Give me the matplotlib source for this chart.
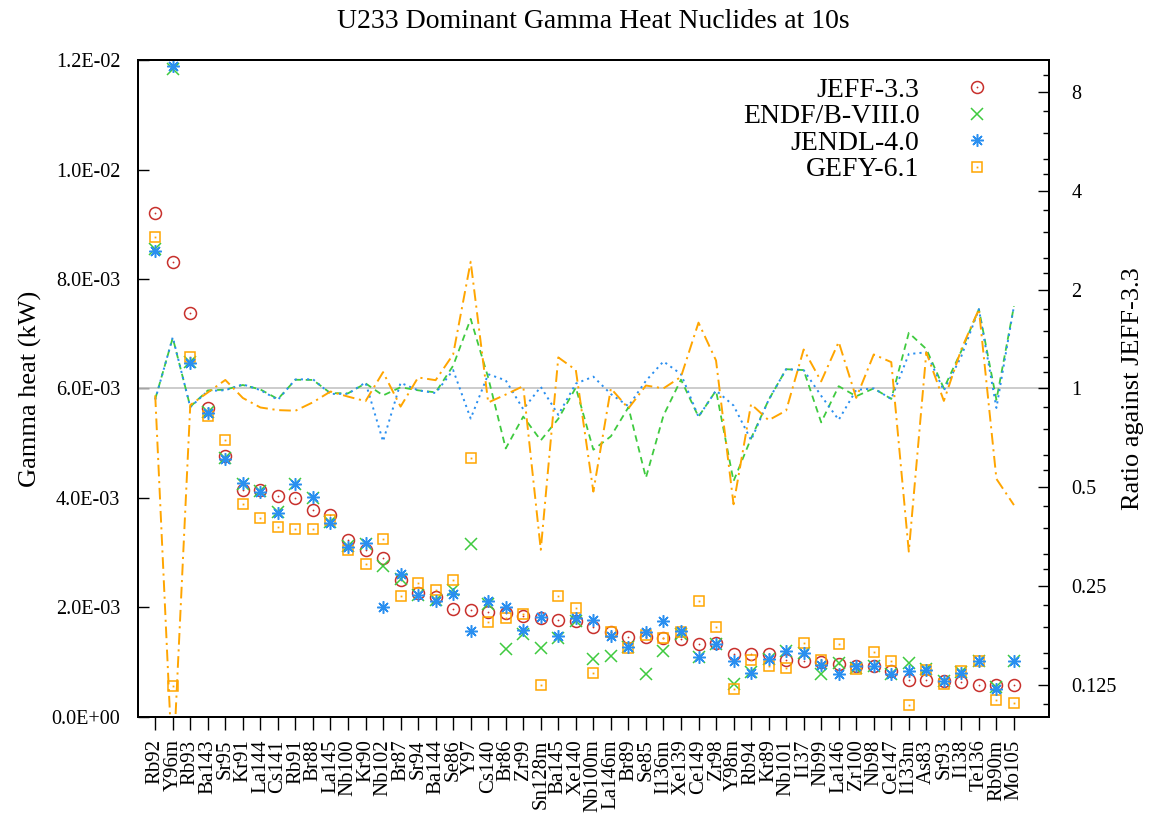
import numpy as np
import matplotlib.pyplot as plt
from matplotlib.ticker import FixedLocator, NullFormatter, FuncFormatter
from matplotlib.legend_handler import HandlerTuple

plt.rcParams.update({
    "font.family": ["Liberation Serif", "DejaVu Serif"],
    "mathtext.fontset": "dejavuserif",
    "axes.linewidth": 1.4,
})

RED = "#c8302c"
GREEN = "#3fca3f"
BLUE = "#2a8ff0"
ORANGE = "#ffa500"

nuclides = [
    "Rb92", "Y96m", "Rb93", "Ba143", "Sr95", "Kr91", "La144", "Cs141", "Rb91", "Br88",
    "La145", "Nb100", "Kr90", "Nb102", "Br87", "Sr94", "Ba144", "Se86", "Y97", "Cs140",
    "Br86", "Zr99", "Sn128m", "Ba145", "Xe140", "Nb100m", "La146m", "Br89", "Se85", "I136m",
    "Xe139", "Ce149", "Zr98", "Y98m", "Rb94", "Kr89", "Nb101", "I137", "Nb99", "La146",
    "Zr100", "Nb98", "Ce147", "I133m", "As83", "Sr93", "I138", "Te136", "Rb90m", "Mo105",
]

# gamma heat at 10 s, in units of 1e-3 kW
jeff = np.array([
    9.21, 8.31, 7.38, 5.65, 4.76, 4.15, 4.15, 4.03, 4.00, 3.77,
    3.68, 3.22, 3.04, 2.90, 2.50, 2.26, 2.19, 1.97, 1.94, 1.91,
    1.89, 1.84, 1.80, 1.77, 1.74, 1.63, 1.54, 1.45, 1.46, 1.44,
    1.42, 1.33, 1.34, 1.15, 1.15, 1.15, 1.04, 1.02, 0.99, 0.96,
    0.93, 0.93, 0.84, 0.66, 0.66, 0.655, 0.63, 0.585, 0.585, 0.567,
]) * 1e-3
endf = np.array([
    8.55, 11.85, 6.49, 5.57, 4.72, 4.25, 4.12, 3.74, 4.25, 4.00,
    3.56, 3.11, 3.15, 2.76, 2.52, 2.23, 2.13, 2.31, 3.16, 2.06,
    1.24, 1.51, 1.25, 1.43, 1.75, 1.06, 1.10, 1.27, 0.78, 1.19,
    1.51, 1.09, 1.32, 0.60, 0.81, 1.06, 1.19, 1.16, 0.78, 0.975,
    0.88, 0.93, 0.78, 0.975, 0.87, 0.655, 0.82, 1.02, 0.54, 1.01,
]) * 1e-3
jendl = np.array([
    8.51, 11.90, 6.47, 5.55, 4.70, 4.27, 4.10, 3.72, 4.26, 4.02,
    3.54, 3.10, 3.17, 2.00, 2.60, 2.23, 2.12, 2.24, 1.57, 2.11,
    2.00, 1.59, 1.82, 1.47, 1.80, 1.77, 1.48, 1.28, 1.54, 1.74,
    1.57, 1.09, 1.32, 1.02, 0.80, 1.06, 1.19, 1.16, 0.94, 0.77,
    0.92, 0.93, 0.78, 0.84, 0.85, 0.645, 0.79, 1.02, 0.51, 1.01,
]) * 1e-3
gefy = np.array([
    8.77, 0.554, 6.57, 5.49, 5.05, 3.88, 3.63, 3.46, 3.42, 3.42,
    3.60, 3.04, 2.78, 3.25, 2.20, 2.44, 2.32, 2.50, 4.72, 1.73,
    1.81, 1.87, 0.58, 2.20, 1.98, 0.79, 1.54, 1.26, 1.49, 1.44,
    1.54, 2.11, 1.63, 0.51, 1.03, 0.92, 0.89, 1.34, 1.04, 1.33,
    0.87, 1.18, 1.01, 0.21, 0.85, 0.60, 0.83, 1.02, 0.31, 0.25,
]) * 1e-3

heat_ticks = [0.0, 2e-3, 4e-3, 6e-3, 8e-3, 1e-2, 1.2e-2]
ratio_ticks = [0.125, 0.25, 0.5, 1, 2, 4, 8]
ratio_labels = ["0.125", "0.25", "0.5", "1", "2", "4", "8"]
ratio_minor_mant = [1.125, 1.25, 1.5, 1.75]

x = np.arange(len(nuclides))

W, H = 1150, 818
fig = plt.figure(figsize=(W / 100, H / 100), dpi=100)
left, right, top, bottom = 137.7, 1049.0, 60.3, 716.5
ax = fig.add_axes([left / W, 1 - bottom / H, (right - left) / W, (bottom - top) / H])

# absolute heat, one marker style per library
h_jeff = ax.plot(x, jeff, ls="none", marker="o", ms=8.6, mfc="none", mec=RED, mew=1.1)[0]
d_jeff = ax.plot(x, jeff, ls="none", marker="o", ms=1.3, color=RED, mew=0)[0]
h_endf = ax.plot(x, endf, ls="none", marker="x", ms=8.0, color=GREEN, mew=1.1)[0]
h_gefy = ax.plot(x, gefy, ls="none", marker="s", ms=7.8, mfc="none", mec=ORANGE, mew=1.1)[0]
d_gefy = ax.plot(x, gefy, ls="none", marker="s", ms=1.3, color=ORANGE, mew=0)[0]
h_jendl = ax.plot(x, jendl, ls="none", marker=(8, 2, 0), ms=9.0, color=BLUE, mew=1.1)[0]

ax.set_xlim(-1, 51)
ax.set_ylim(0, 0.012)
ax.set_yticks(heat_ticks)
ax.yaxis.set_major_formatter(FuncFormatter(lambda v, p: "%.1E" % v))
ax.set_xticks(x)
ax.set_xticklabels(nuclides, rotation=90, fontsize=15)
ax.tick_params(axis="x", direction="out", length=9.5, width=1.0, pad=7, top=False)
ax.tick_params(axis="y", direction="in", length=7.6, width=1.0, labelsize=14.5, pad=12.5,
               right=False)
ax.set_ylabel("Gamma heat (kW)", fontsize=19)
ax.yaxis.set_label_coords(-0.105, 0.5)
ax.set_title("U233 Dominant Gamma Heat Nuclides at 10s", fontsize=20, pad=23)

# ratios against JEFF-3.3 on a log2 right axis
ax2 = ax.twinx()
ax2.set_yscale("log")
ax2.set_ylim(0.1, 10)
ax2.axhline(1.0, color="#c4c4c4", lw=1.2, zorder=0)
ax2.plot(x, endf / jeff, color=GREEN, lw=1.3, dashes=(3.6, 2.6))
ax2.plot(x, jendl / jeff, color=BLUE, lw=1.4, dashes=(1.1, 2.1))
ax2.plot(x, gefy / jeff, color=ORANGE, lw=1.4, dashes=(6.0, 2.4, 1.1, 2.4))

minor = [m * 2.0 ** k for k in range(-4, 4) for m in ratio_minor_mant]
minor = [v for v in minor if 0.1 < v < 10]
ax2.yaxis.set_major_locator(FixedLocator(ratio_ticks))
ax2.set_yticklabels(ratio_labels)
ax2.yaxis.set_minor_locator(FixedLocator(minor))
ax2.yaxis.set_minor_formatter(NullFormatter())
ax2.tick_params(axis="y", which="major", direction="in", length=7.7, width=1.0,
                labelsize=14.5, pad=16)
ax2.tick_params(axis="y", which="minor", direction="in", length=4.0, width=1.0)
ax2.set_ylabel("Ratio against JEFF-3.3", fontsize=19)
ax2.yaxis.set_label_coords(1.080, 0.5)

for a in (ax, ax2):
    for s in a.spines.values():
        s.set_linewidth(1.4)

leg = ax2.legend(
    [(h_jeff, d_jeff), h_endf, h_jendl, (h_gefy, d_gefy)],
    ["JEFF-3.3", "ENDF/B-VIII.0", "JENDL-4.0", "GEFY-6.1"],
    handler_map={tuple: HandlerTuple(ndivide=1, pad=0)},
    loc="upper right", bbox_to_anchor=(0.951, 0.974), frameon=False,
    markerfirst=False, numpoints=1, fontsize=20, handlelength=2.0,
    handletextpad=1.05, labelspacing=0.04, borderpad=0, borderaxespad=0,
)

fig.savefig("out.png", dpi=100)
